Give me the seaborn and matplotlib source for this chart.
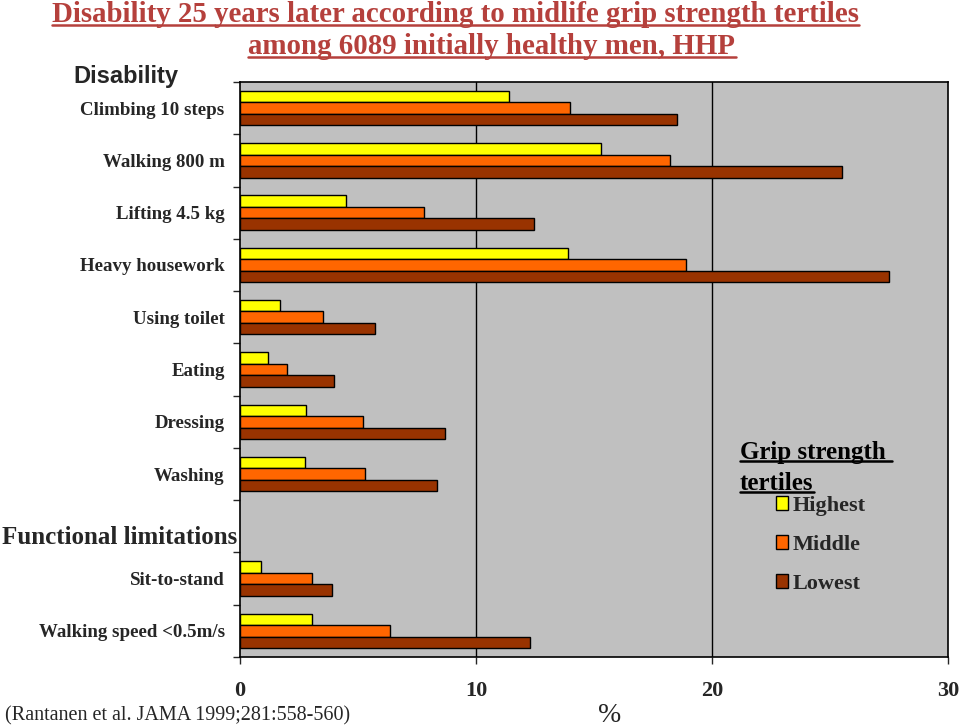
import numpy as np
import pandas as pd
import matplotlib
matplotlib.use('Agg')
import matplotlib.pyplot as plt
from matplotlib.lines import Line2D
from matplotlib.patches import Patch
import seaborn as sns

# data (% with disability)
activities = ['Climbing 10 steps', 'Walking 800 m', 'Lifting 4.5 kg', 'Heavy housework',
              'Using toilet', 'Eating', 'Dressing', 'Washing', ' ',
              'Sit-to-stand', 'Walking speed <0.5m/s']
tertiles = ['Highest', 'Middle', 'Lowest']
highest = [11.4, 15.3, 4.5, 13.9, 1.7, 1.2, 2.8, 2.75, 0.9, 3.05]
middle = [14.0, 18.2, 7.8, 18.9, 3.5, 2.0, 5.2, 5.3, 3.05, 6.35]
lowest = [18.5, 25.5, 12.45, 27.5, 5.7, 4.0, 8.7, 8.35, 3.9, 12.3]
colors = ['#FFFF00', '#FF6600', '#993300']

with_data = [a for a in activities if a.strip()]
df = pd.DataFrame({
    'activity': with_data * 3,
    'tertile': np.repeat(tertiles, len(with_data)),
    'pct': highest + middle + lowest,
})

sns.set_style('white')
plt.rcParams['font.family'] = ['Liberation Serif', 'DejaVu Serif']

fig = plt.figure(figsize=(9.6, 7.27), dpi=100)
ax = fig.add_axes([0.25, 1 - 657 / 727, 0.7375, (657 - 82) / 727])
ax.set_facecolor('#C0C0C0')

sns.barplot(data=df, x='pct', y='activity', hue='tertile', order=activities,
            hue_order=tertiles, palette=colors, orient='h', width=0.66,
            edgecolor='black', linewidth=1, saturation=1, ax=ax, legend=False)

ax.set_xlim(0, 30)
ax.set_ylim(len(activities) - 0.5, -0.5)
ax.set_xticks([0, 10, 20, 30])
ax.set_xticklabels(['0', '10', '20', '30'], fontsize=16, fontweight='bold')
ax.tick_params(axis='x', length=5, width=1, pad=12, direction='out', bottom=True)
for v in [10, 20]:
    ax.axvline(v, color='black', lw=1, zorder=0.5)

ax.set_yticks(range(len(activities)))
ax.set_yticklabels(activities, fontsize=13.6, fontweight='bold')
ax.tick_params(axis='y', length=0, pad=11)
ax.set_yticks(np.arange(-0.5, len(activities)), minor=True)
ax.tick_params(axis='y', which='minor', length=5, width=1, left=True)
ax.set_xlabel('')
ax.set_ylabel('')
for s in ax.spines.values():
    s.set_color('black')
    s.set_linewidth(1.2)

# legend
handles = [Patch(facecolor=c, edgecolor='black', label=t) for c, t in zip(colors, tertiles)]
fig.legend(handles=handles, loc='upper left', bbox_to_anchor=(776 / 960, 1 - 496 / 727),
           frameon=False, prop={'size': 16, 'weight': 'bold'}, handlelength=0.55,
           handleheight=0.55, handletextpad=0.2, labelspacing=0.85, borderpad=0,
           borderaxespad=0)

title_col = '#B5403C'
t1 = fig.text(455 / 960, 1 - 14 / 727, 'Disability 25 years later according to midlife grip strength tertiles',
              ha='center', va='center', fontsize=20.8, fontweight='bold', color=title_col)
t2 = fig.text(492 / 960, 1 - 46 / 727, 'among 6089 initially healthy men, HHP',
              ha='center', va='center', fontsize=20.8, fontweight='bold', color=title_col)
g1 = fig.text(740 / 960, 1 - 452 / 727, 'Grip strength ', ha='left', va='center',
              fontsize=18, fontweight='bold', color='black')
g2 = fig.text(740 / 960, 1 - 483 / 727, 'tertiles', ha='left', va='center',
              fontsize=18, fontweight='bold', color='black')
fig.text(73 / 960, 1 - 77 / 727, 'Disability', ha='left', va='center',
         fontsize=17, fontweight='bold', family=['Liberation Sans', 'DejaVu Sans'])
fig.text(2 / 960, 1 - 537 / 727, 'Functional limitations', ha='left', va='center',
         fontsize=18, fontweight='bold')
fig.text(5 / 960, 1 - 716 / 727, '(Rantanen et al. JAMA 1999;281:558-560)', ha='left', va='center',
         fontsize=14.5)
fig.text(610 / 960, 1 - 716 / 727, '%', ha='center', va='center', fontsize=20)

# underlines under title and legend heading
fig.canvas.draw()
r = fig.canvas.get_renderer()
inv = fig.transFigure.inverted()
for t, col in [(t1, title_col), (t2, title_col), (g1, 'black'), (g2, 'black')]:
    bb = t.get_window_extent(r)
    (x0, y0), (x1, _) = inv.transform([(bb.x0, bb.y0), (bb.x1, bb.y1)])
    fig.add_artist(Line2D([x0, x1], [y0 + 0.003, y0 + 0.003], color=col, lw=1.8,
                          transform=fig.transFigure))

fig.savefig('out.png', dpi=100)
